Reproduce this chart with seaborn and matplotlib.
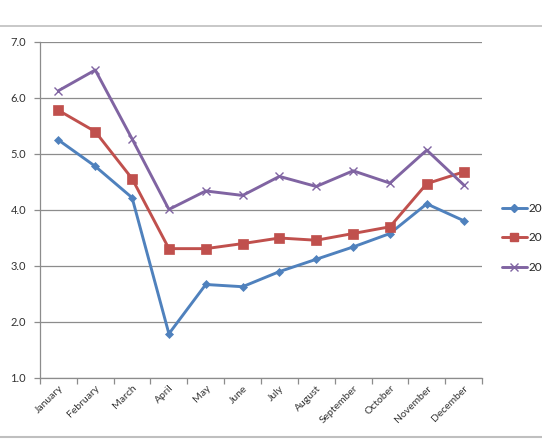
import numpy as np
import pandas as pd
import matplotlib
matplotlib.use('Agg')
import matplotlib.pyplot as plt
from matplotlib.lines import Line2D
import seaborn as sns

# Data
months = ['January', 'February', 'March', 'April', 'May', 'June', 'July',
          'August', 'September', 'October', 'November', 'December']
values_2020 = [5.25, 4.78, 4.22, 1.79, 2.67, 2.63, 2.90, 3.12, 3.34, 3.58, 4.11, 3.81]
values_2019 = [5.78, 5.40, 4.56, 3.31, 3.31, 3.40, 3.50, 3.46, 3.58, 3.70, 4.47, 4.68]
values_2018 = [6.13, 6.50, 5.27, 4.01, 4.34, 4.26, 4.60, 4.42, 4.70, 4.48, 5.07, 4.45]
years = ['2020', '2019', '2018']
y_ticks = [1.0, 2.0, 3.0, 4.0, 5.0, 6.0, 7.0]

colors = {'2020': '#4F81BD', '2019': '#C0504D', '2018': '#8064A2'}
markers = {'2020': 'D', '2019': 's', '2018': 'x'}
msizes = {'2020': 4, '2019': 6.5, '2018': 6}

df = pd.DataFrame({
    'month_idx': list(range(12)) * 3,
    'value': values_2020 + values_2019 + values_2018,
    'year': ['2020'] * 12 + ['2019'] * 12 + ['2018'] * 12,
})

sns.set_theme(style='white')
plt.rcParams['font.family'] = ['Lato', 'DejaVu Sans']

fig = plt.figure(figsize=(5.42, 4.42), dpi=100)
ax = fig.add_axes([40 / 542, 64 / 442, 442 / 542, 336 / 442])

for yr in years:
    sub = df[df['year'] == yr]
    sns.lineplot(data=sub, x='month_idx', y='value', ax=ax, color=colors[yr],
                 linewidth=2.1, marker=markers[yr], markersize=msizes[yr],
                 markeredgecolor=colors[yr], markeredgewidth=1.0 if yr == '2018' else 0.5,
                 legend=False)

ax.set_xlim(-0.5, 11.5)
ax.set_ylim(1.0, 7.0)
ax.set_yticks(y_ticks)
ax.set_yticklabels([f'{v:.1f}' for v in y_ticks], fontsize=8, color='#333333')
ax.yaxis.grid(True, color='#8C8C8C', linewidth=0.9)
ax.set_axisbelow(True)

# category labels at centres, tick marks at category boundaries
ax.set_xticks(range(12))
ax.set_xticklabels(months, rotation=45, ha='right', rotation_mode='anchor',
                   fontsize=7.5, color='#333333')
ax.set_xticks(np.arange(-0.5, 12, 1), minor=True)
ax.tick_params(axis='x', which='major', length=0, pad=4)
ax.tick_params(axis='x', which='minor', length=4, color='#8C8C8C', width=0.9, bottom=True)
ax.tick_params(axis='y', length=4, color='#8C8C8C', width=0.9, left=True, pad=6)
ax.set_xlabel('')
ax.set_ylabel('')

for side in ['top', 'right']:
    ax.spines[side].set_visible(False)
for side in ['left', 'bottom']:
    ax.spines[side].set_color('#8C8C8C')
    ax.spines[side].set_linewidth(0.9)

# legend, partly cut off by the right edge as in the reference
handles = [Line2D([0], [0], color=colors[yr], linewidth=2.1, marker=markers[yr],
                  markersize=msizes[yr] * 0.9, markeredgecolor=colors[yr])
           for yr in years]
fig.legend(handles, years, loc='center left', bbox_to_anchor=(497 / 542, 1 - 238 / 442),
           frameon=False, fontsize=8.5, handlelength=2.1, handletextpad=0.2,
           labelspacing=1.55, borderaxespad=0)

# chart frame lines
fig.add_artist(Line2D([0, 1], [1 - 26 / 442, 1 - 26 / 442], color='#BFBFBF', linewidth=1.2,
                      transform=fig.transFigure))
fig.add_artist(Line2D([0, 1], [1 - 437 / 442, 1 - 437 / 442], color='#BFBFBF', linewidth=1.5,
                      transform=fig.transFigure))

plt.savefig('out.png', dpi=100)
plt.close()
